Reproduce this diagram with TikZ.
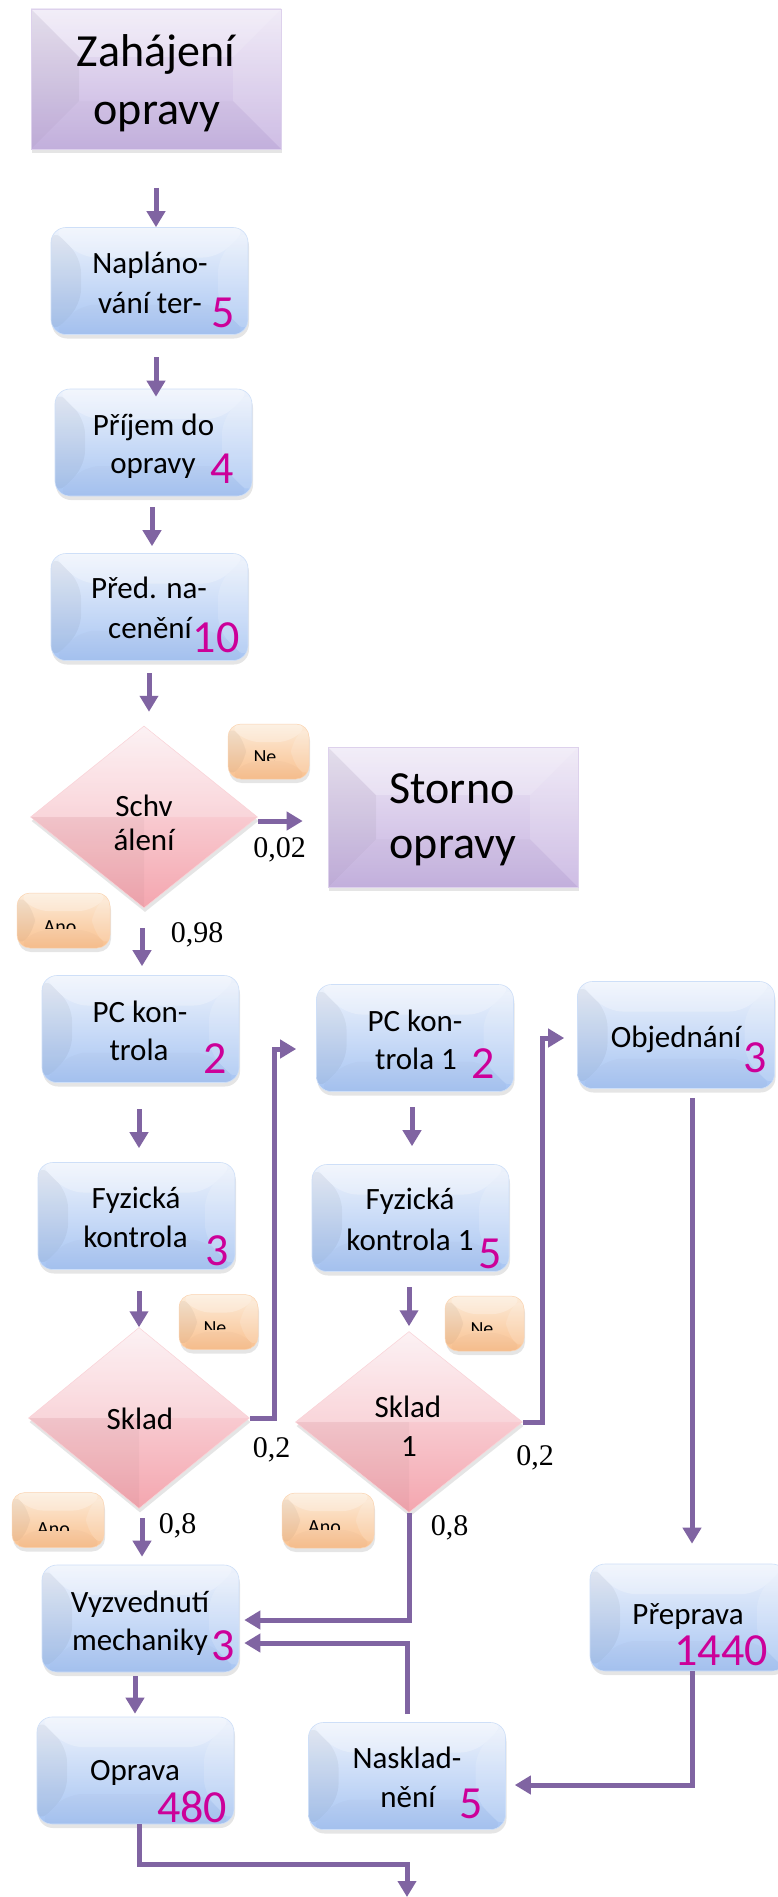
\documentclass[tikz,border=0pt]{standalone}
\usepackage{fontspec}
\setmainfont{Carlito}
\newfontfamily\probfont{Liberation Serif}
\usetikzlibrary{arrows.meta,shapes.geometric,shadows}

\definecolor{flowc}{RGB}{128,100,162}
\definecolor{numc}{RGB}{204,0,153}
\definecolor{blueT}{RGB}{238,243,252}
\definecolor{blueB}{RGB}{166,196,242}
\definecolor{lilacT}{RGB}{238,232,246}
\definecolor{lilacB}{RGB}{198,178,224}
\definecolor{pinkT}{RGB}{252,238,241}
\definecolor{pinkB}{RGB}{244,166,175}
\definecolor{peachT}{RGB}{252,236,218}
\definecolor{peachB}{RGB}{249,192,142}

\tikzset{
  % bevelled facets of a rectangular box, #1 = inset
  bevel/.style={path picture={
    \fill[black,opacity=0.045] (path picture bounding box.north west)
      -- ([xshift=#1pt,yshift=-#1pt]path picture bounding box.north west)
      -- ([xshift=#1pt,yshift=#1pt]path picture bounding box.south west)
      -- (path picture bounding box.south west) -- cycle;
    \fill[white,opacity=0.25] (path picture bounding box.north west)
      -- (path picture bounding box.north east)
      -- ([xshift=-#1pt,yshift=-#1pt]path picture bounding box.north east)
      -- ([xshift=#1pt,yshift=-#1pt]path picture bounding box.north west) -- cycle;
    \fill[white,opacity=0.15] (path picture bounding box.north east)
      -- (path picture bounding box.south east)
      -- ([xshift=-#1pt,yshift=#1pt]path picture bounding box.south east)
      -- ([xshift=-#1pt,yshift=-#1pt]path picture bounding box.north east) -- cycle;
    \fill[black,opacity=0.015] (path picture bounding box.south west)
      -- (path picture bounding box.south east)
      -- ([xshift=-#1pt,yshift=#1pt]path picture bounding box.south east)
      -- ([xshift=#1pt,yshift=#1pt]path picture bounding box.south west) -- cycle;
  }},
  dbevel/.style={path picture={
    \fill[white,opacity=0.22] (path picture bounding box.west)
      -- (path picture bounding box.north) -- (path picture bounding box.east) -- cycle;
    \fill[black,opacity=0.03] (path picture bounding box.west)
      -- (path picture bounding box.center) -- (path picture bounding box.south) -- cycle;
  }},
  softshadow/.style={drop shadow={shadow xshift=1pt,shadow yshift=-4pt,opacity=0.2}},
  endbox/.style={rectangle, minimum width=250pt, minimum height=140pt, inner sep=0pt,
    top color=lilacT, bottom color=lilacB, draw=lilacB!60!white, line width=0.6pt,
    softshadow, bevel=48},
  stepbox/.style={rectangle, rounded corners=15pt, minimum width=197pt, minimum height=107pt,
    inner sep=0pt, top color=blueT, bottom color=blueB, draw=blueB!55!white, line width=0.6pt,
    softshadow, bevel=30},
  decide/.style={diamond, minimum width=#1, minimum height=182pt, inner sep=0pt,
    top color=pinkT, bottom color=pinkB, draw=pinkB!50!white, line width=0.5pt,
    softshadow, dbevel},
  tag/.style={rectangle, rounded corners=13pt, minimum height=55pt, minimum width=#1, inner sep=0pt,
    top color=peachT, bottom color=peachB, draw=peachB!70!white, line width=0.5pt,
    softshadow, bevel=18},
  t/.style={font=\fontsize{31}{38}\selectfont, inner sep=0pt, anchor=base},
  bigt/.style={font=\fontsize{46}{56}\selectfont, inner sep=0pt, anchor=base},
  n/.style={font=\fontsize{46}{46}\selectfont, text=numc, inner sep=0pt, anchor=base},
  p/.style={font=\probfont\fontsize{30}{30}\selectfont, inner sep=0pt, anchor=base},
  tagt/.style={font=\fontsize{20}{20}\selectfont, inner sep=0pt, anchor=base},
  flow/.style={draw=flowc, line width=5pt, line join=miter,
    -{Triangle[width=18pt,length=16pt]}},
}

\begin{document}
\begin{tikzpicture}[x=1pt,y=-1pt]
\useasboundingbox (0,0) rectangle (778,1897);
\fill[white] (0,0) rectangle (778,1897);
\clip (0,0) rectangle (778,1897);

% ---- shapes ----
\node[endbox] (start) at (156,79) {};
\node[stepbox] (plan) at (149.5,281) {};
\node[stepbox] (prijem) at (153.5,442.5) {};
\node[stepbox] (pred) at (149.5,607) {};
\node[decide=227pt] (schv) at (144,817) {};
\node[endbox] (storno) at (453,817) {};
\node[stepbox] (pc) at (140.5,1029) {};
\node[stepbox] (fyz) at (136.5,1216) {};
\node[decide=221pt,minimum height=181pt] (sklad) at (139,1418) {};
\node[stepbox] (pc1) at (415,1038) {};
\node[stepbox] (fyz1) at (410.5,1218) {};
\node[decide=227pt,minimum height=181pt] (sklad1) at (409,1422) {};
\node[stepbox] (obj) at (676,1035) {};
\node[stepbox] (vyzv) at (140.5,1618.5) {};
\node[stepbox] (oprava) at (135.5,1770.5) {};
\node[stepbox] (nasklad) at (407,1776) {};
\node[stepbox] (preprava) at (688.5,1617.5) {};

% ---- yes / no tags (their captions are cut at the lower part) ----
\node[tag=81pt] (ne1) at (268.5,751.5) {};
\node[tag=93pt] (ano1) at (63.5,920.5) {};
\node[tag=79pt] (ne2) at (218.5,1322) {};
\node[tag=92pt] (ano2) at (58,1520) {};
\node[tag=79pt] (ne3) at (484.5,1323.5) {};
\node[tag=92pt] (ano3) at (328,1520.5) {};
\begin{scope}\clip (228,724) rectangle (309,760);
  \node[tagt] (ne1-t) at (265,763) {Ne};\end{scope}
\begin{scope}\clip (17,893) rectangle (110,928);
  \node[tagt] (ano1-t) at (60,933) {Ano};\end{scope}
\begin{scope}\clip (179,1295) rectangle (258,1329);
  \node[tagt] (ne2-t) at (215,1334) {Ne};\end{scope}
\begin{scope}\clip (12,1493) rectangle (104,1530);
  \node[tagt] (ano2-t) at (53.5,1535) {Ano};\end{scope}
\begin{scope}\clip (445,1296) rectangle (524,1330);
  \node[tagt] (ne3-t) at (482,1335) {Ne};\end{scope}
\begin{scope}\clip (282,1493) rectangle (374,1529);
  \node[tagt] (ano3-t) at (324.5,1533) {Ano};\end{scope}

% ---- box texts ----
\node[bigt] (start-l1) at (156,67) {Zahájení};
\node[bigt] (start-l2) at (157,125) {opravy};
\node[bigt] (storno-l1) at (452,803) {Storno};
\node[bigt] (storno-l2) at (453,858) {opravy};

\node[t] (plan-l1) at (150,273) {Naplá­no-};
\node[t] (plan-l2) at (150,313) {vání ter-};
\node[n] (plan-n) at (223,327) {5};

\node[t] (prijem-l1) at (153.5,435) {Příjem do};
\node[t] (prijem-l2) at (153,473) {opravy};
\node[n] (prijem-n) at (222,483) {4};

\node[t] (pred-l1) at (149,598) {Před. na-};
\node[t] (pred-l2) at (150,638) {cenění};
\node[n] (pred-n) at (216,652) {10};

\node[t] (schv-l1) at (144,816) {Schv};
\node[t] (schv-l2) at (144,850) {álení};

\node[t] (pc-l1) at (140,1022) {PC kon-};
\node[t] (pc-l2) at (139,1060) {trola};
\node[n] (pc-n) at (215,1073) {2};

\node[t] (fyz-l1) at (136,1208) {Fyzická};
\node[t] (fyz-l2) at (135.5,1247) {kontrola};
\node[n] (fyz-n) at (217,1265) {3};

\node[t] (sklad-l1) at (140,1429) {Sklad};

\node[t] (pc1-l1) at (415,1031) {PC kon-};
\node[t] (pc1-l2) at (416,1069) {trola 1};
\node[n] (pc1-n) at (483,1078) {2};

\node[t] (fyz1-l1) at (410,1209) {Fyzická};
\node[t] (fyz1-l2) at (410,1250) {kontrola 1};
\node[n] (fyz1-n) at (490,1268) {5};

\node[t] (obj-l1) at (676,1047) {Objednání};
\node[n] (obj-n) at (755,1072) {3};

\node[t] (sklad1-l1) at (408,1417) {Sklad};
\node[t] (sklad1-l2) at (409,1456) {1};

\node[t] (vyzv-l1) at (140,1612) {Vyzvednutí};
\node[t] (vyzv-l2) at (140,1650) {mechaniky};
\node[n] (vyzv-n) at (223,1660) {3};

\node[t] (oprava-l1) at (135,1780) {Oprava};
\node[n] (oprava-n) at (192,1822) {480};

\node[t] (nasklad-l1) at (407,1768) {Nasklad-};
\node[t] (nasklad-l2) at (408,1807) {nění};
\node[n] (nasklad-n) at (471,1818) {5};

\node[t] (preprava-l1) at (688,1624) {Přeprava};
\node[n] (preprava-n) at (721,1665) {1440};

% ---- branch probabilities ----
\node[p] (p-storno) at (279.5,857) {0,02};
\node[p] (p-pc) at (197,942) {0,98};
\node[p] (p-sk-no) at (271.5,1457) {0,2};
\node[p] (p-sk-yes) at (177.5,1533) {0,8};
\node[p] (p-sk1-no) at (535,1465) {0,2};
\node[p] (p-sk1-yes) at (449.5,1535) {0,8};

% ---- connectors ----
\coordinate (a1) at (156,188);
\coordinate (a2) at (156,357);
\coordinate (a3) at (152,507);
\coordinate (a4) at (149,673);
\coordinate (a6) at (142,928);
\coordinate (a7) at (139,1109);
\coordinate (a8) at (139,1291);
\coordinate (a10) at (142,1518);
\coordinate (a11) at (412,1107);
\coordinate (a12) at (409,1287);
\coordinate (a18) at (135,1676);
\coordinate (k9) at (274,1049);
\coordinate (k13) at (542,1038);
\coordinate (k15) at (692,1098);
\coordinate (k19) at (139,1864);
\coordinate (exit) at (407,1897);

\draw[flow] (a1) -- (a1 |- plan.north);
\draw[flow] (a2) -- ([yshift=-8pt]a2 |- prijem.north);
\draw[flow] (a3) -- ([yshift=7pt]a3 |- pred.north);
\draw[flow] (a4) -- ([yshift=14pt]a4 |- schv.north);
\draw[flow] ([yshift=-4pt]schv.east) -- ([xshift=-25pt,yshift=-4pt]storno.west |- schv.east);
\draw[flow] (a6) -- ([yshift=9pt]a6 |- pc.north);
\draw[flow] (a7) -- ([yshift=14pt]a7 |- fyz.north);
\draw[flow] (a8) -- (a8 |- sklad.north);
\draw[flow] (sklad.east) -| (k9) -- ([xshift=-20pt]pc1.west |- k9);
\draw[flow] (a10) -- ([yshift=8pt]a10 |- vyzv.north);
\draw[flow] (a11) -- ([yshift=18pt]a11 |- fyz1.north);
\draw[flow] (a12) -- ([yshift=5pt]a12 |- sklad1.north);
\draw[flow] (sklad1.east) -| (k13) -- ([xshift=-13pt]obj.west |- k13);
\draw[flow] (sklad1.south) |- ([xshift=5pt,yshift=-1.5pt]vyzv.east);
\draw[flow] (k15) -- ([yshift=20pt]k15 |- preprava.north);
\draw[flow] (preprava.south -| k15) |- ([xshift=9pt,yshift=-9pt]nasklad.east);
\draw[flow] ([yshift=8pt]nasklad.north) |- ([xshift=5pt,yshift=-24.5pt]vyzv.east);
\draw[flow] (a18) -- ([yshift=3pt]a18 |- oprava.north);
\draw[flow] (oprava.south -| k19) -- (k19) -| (exit);
\end{tikzpicture}
\end{document}
